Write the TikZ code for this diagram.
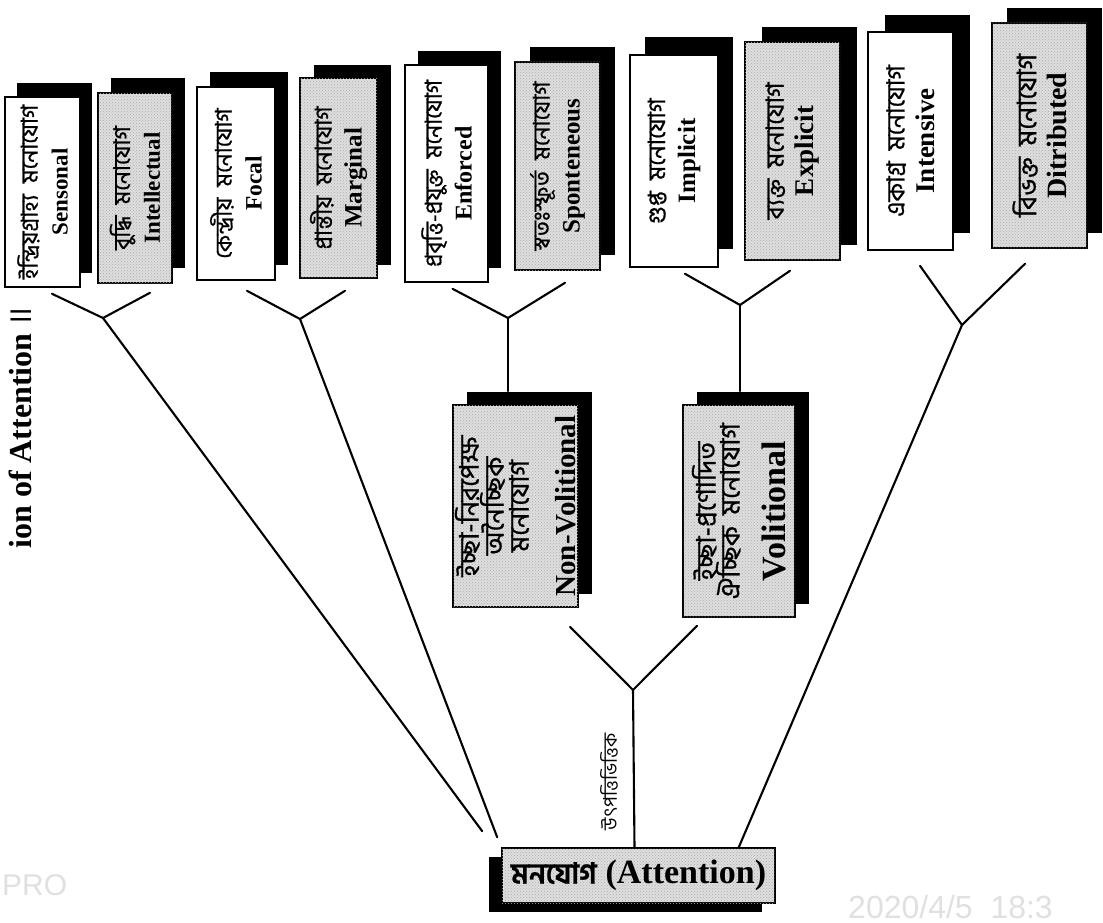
\documentclass[tikz,border=0pt]{standalone}
\usepackage{graphicx}
\usepackage{fontspec}
\setmainfont{Liberation Serif}
\newfontfamily\enb{Liberation Serif Bold}
\newfontfamily\bn[Script=Bengali, FakeBold=0.7]{Hind Siliguri}
\newfontfamily\bnplain[Script=Bengali]{Hind Siliguri}
\newfontfamily\cam{Liberation Sans}
\usetikzlibrary{calc,patterns}
\tikzset{
  plainbox/.style={draw=black, line width=1.6pt, fill=white, inner sep=0pt},
  shadedbox/.style={plainbox, fill=black!13, postaction={pattern=crosshatch dots, pattern color=black!32}},
  branch/.style={line width=2.1pt, line cap=round},
}
\newcommand{\gap}{\hspace{11pt}}
% #1 bengali, #2 english, #3 length, #4 bengali size, #5 english size
\newcommand{\toptext}[5]{\rotatebox{90}{\parbox[c]{#3pt}{\centering\lineskiplimit=-100pt
  {\bn\fontsize{#4}{#4}\selectfont #1\par}
  {\enb\fontsize{#5}{30}\selectfont #2\par}}}}
\newcommand{\attbox}[9]{%
  \fill[black] ({#3-#5/2+#7},{#4-#6/2+#8}) rectangle ({#3+#5/2+#7},{#4+#6/2+#8});
  \node[#2, minimum width=#5, minimum height=#6] (#1) at (#3,#4) {#9};
}
\begin{document}
\begin{tikzpicture}[x=1pt,y=-1pt]
\useasboundingbox (0,0) rectangle (1103,923);
% page title fragment
\node[rotate=90, anchor=base, inner sep=0pt, font=\enb\fontsize{32}{34}\selectfont] (title) at (31,428) {ion of Attention {\bnplain ॥}};
% top boxes
\attbox{sen}{plainbox}{42.5}{192}{75}{190}{12}{-14}{\toptext{ইন্দ্রিয়গ্রাহ্য\gap মনোযোগ}{Sensonal}{186}{23}{23}}
\attbox{int}{shadedbox}{135}{188}{74}{190}{13}{-15}{\toptext{বুদ্ধি\gap মনোযোগ}{Intellectual}{186}{23}{23}}
\attbox{foc}{plainbox}{236}{183.5}{78}{193}{13}{-15}{\toptext{কেন্দ্রীয়\gap মনোযোগ}{Focal}{190}{23}{23.5}}
\attbox{mar}{shadedbox}{338.5}{178}{77}{200}{14}{-13}{\toptext{প্রান্তীয়\gap মনোযোগ}{Marginal}{196}{23}{25}}
\attbox{enf}{plainbox}{446.5}{173.5}{83}{217}{13}{-14}{\toptext{প্রবৃত্তি-প্রযুক্ত\gap মনোযোগ}{Enforced}{212}{23}{24}}
\attbox{spo}{shadedbox}{557.5}{166}{85}{208}{15}{-15}{\toptext{স্বতঃস্ফূর্ত\gap মনোযোগ}{Sponteneous}{204}{23}{25}}
\attbox{imp}{plainbox}{674}{161}{88}{212}{15}{-18}{\toptext{গুপ্ত\gap মনোযোগ}{Implicit}{208}{24}{25}}
\attbox{exp}{shadedbox}{792.5}{151}{95}{218}{17}{-15}{\toptext{ব্যক্ত\gap মনোযোগ}{Explicit}{214}{25}{27}}
\attbox{ins}{plainbox}{910.5}{141}{85}{218}{17}{-17}{\toptext{একাগ্র\gap মনোযোগ}{Intensive}{214}{25}{27}}
\attbox{dis}{shadedbox}{1039.5}{135.5}{95}{225}{15}{-15}{\toptext{বিভক্ত\gap মনোযোগ}{Ditributed}{220}{27}{28}}
% middle boxes
\attbox{nv}{shadedbox}{515.5}{506}{125}{202}{14}{-13}{\rotatebox{90}{\parbox[c]{200pt}{\centering\lineskiplimit=-100pt
  {\bn\fontsize{27}{25}\selectfont ইচ্ছা-নিরপেক্ষ\\অনৈচ্ছিক\\মনোযোগ\par}
  {\enb\fontsize{29}{47}\selectfont Non-Volitional\par}}}}
\attbox{vo}{shadedbox}{739}{511}{112}{212}{14}{-13}{\rotatebox{90}{\parbox[c]{210pt}{\centering\lineskiplimit=-100pt
  {\bn\fontsize{27}{24}\selectfont ইচ্ছা-প্রণোদিত\\ঐচ্ছিক\gap মনোযোগ\par}
  {\enb\fontsize{34}{46}\selectfont Volitional\par}}}}
% root
\attbox{root}{shadedbox}{638.5}{875.5}{273}{55}{-13}{9}{{\bn\bfseries\fontsize{29}{34}\selectfont মনযোগ}\hspace{9pt}{\enb\fontsize{34}{38}\selectfont (Attention)}}
% junctions
\coordinate (j1) at (103,318);
\coordinate (j2) at (300,319);
\coordinate (j3) at (508,318);
\coordinate (j4) at (740,305);
\coordinate (j5) at (962,325);
\coordinate (j6) at (633,690);
% forks
\draw[branch] ($(sen.south)+(9.5,6)$) -- (j1) -- ($(int.south)+(15,9)$);
\draw[branch] ($(foc.south)+(11,10)$) -- (j2) -- ($(mar.south)+(6.5,12)$);
\draw[branch] ($(enf.south)+(6,6)$) -- (j3) -- ($(spo.south)+(7.5,12)$);
\draw[branch] ($(imp.south)+(11,6)$) -- (j4) -- ($(exp.south)+(-2.5,10)$);
\draw[branch] ($(ins.south)+(9.5,15)$) -- (j5) -- ($(dis.south)+(-14.5,15)$);
\draw[branch] ($(nv.south)+(54.5,19)$) -- (j6) -- ($(vo.south)+(-42,8)$);
% stems
\draw[branch] (j1) -- ($(root.north west)+(-19,-16)$);
\draw[branch] (j2) -- ($(root.north west)+(-4,-10)$);
\draw[branch] (j5) -- ($(root.north east)+(-37,0)$);
\draw[branch] (j3) -- ($(nv.north)+(-7.5,-13)$);
\draw[branch] (j4) -- ($(vo.north)+(1,-13)$);
\draw[branch] (j6) -- ($(root.north)+(-4,0)$);
\node[rotate=90, inner sep=0pt, font=\bnplain\fontsize{19}{21}\selectfont] (lbl) at (609,782) {উৎপত্তিভিত্তিক};
% camera overlays
\node[anchor=base west, inner sep=0pt, text=black!12, font=\cam\fontsize{30}{32}\selectfont] (pro) at (2,895) {PRO};
\node[anchor=base west, inner sep=0pt, text=black!12, font=\cam\fontsize{32}{34}\selectfont] (stamp) at (848,918) {2020/4/5\ \ 18:3};
\end{tikzpicture}
\end{document}
